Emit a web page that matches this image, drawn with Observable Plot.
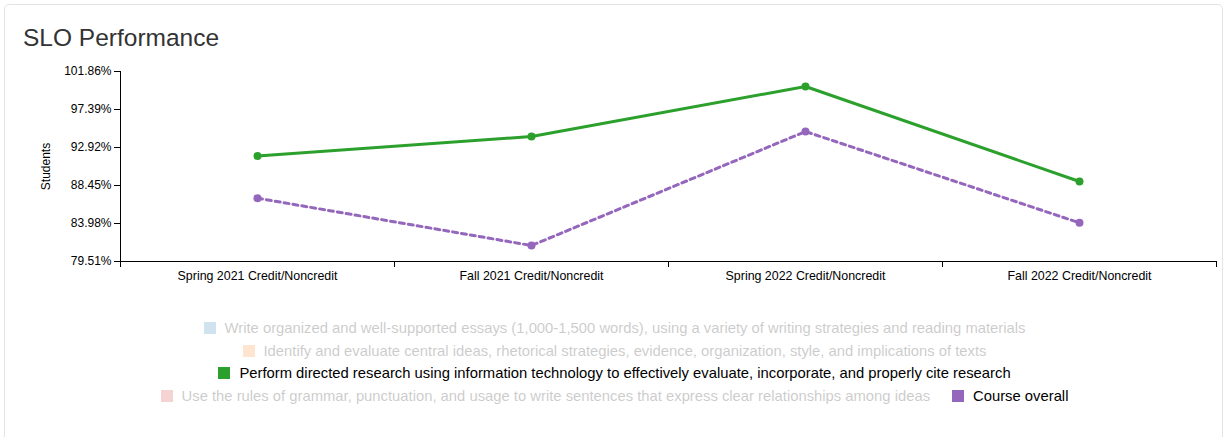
<!DOCTYPE html>
<html>
<head>
<meta charset="utf-8">
<script src="https://cdn.jsdelivr.net/npm/d3@7"></script>
<script src="https://cdn.jsdelivr.net/npm/@observablehq/plot@0.6"></script>
<style>
  html, body { margin: 0; padding: 0; background: #fff; font-family: "Liberation Sans", Arial, Helvetica, sans-serif; }
  #card { position: absolute; left: 4px; top: 4px; width: 1219px; height: 460px; border: 1px solid #e3e3e3; border-radius: 5px; box-sizing: border-box; }
  #title { position: absolute; left: 23px; top: 24px; font-size: 24.5px; color: #333; margin: 0; font-weight: normal; }
  #chart { position: absolute; left: 0; top: 60px; }
  #legend { position: absolute; left: 142px; top: 319px; width: 945px; display: flex; flex-wrap: wrap; justify-content: center; row-gap: 4px; column-gap: 22px; font-size: 14.8px; }
  .item { display: flex; align-items: center; height: 18.5px; color: #000; white-space: nowrap; }
  .item.off { opacity: 0.2; }
  .sw { width: 12px; height: 12px; margin-right: 9px; }
</style>
</head>
<body>
<div id="card"></div>
<h2 id="title">SLO Performance</h2>
<div id="chart"></div>
<div id="legend"></div>
<script>
const terms = ["Spring 2021 Credit/Noncredit", "Fall 2021 Credit/Noncredit", "Spring 2022 Credit/Noncredit", "Fall 2022 Credit/Noncredit"];
const researchValues = [91.92, 94.21, 100.10, 88.92];
const overallValues = [86.96, 81.39, 94.80, 84.06];
const yTicks = [79.51, 83.98, 88.45, 92.92, 97.39, 101.86];
const legendNames = [
  "Write organized and well-supported essays (1,000-1,500 words), using a variety of writing strategies and reading materials",
  "Identify and evaluate central ideas, rhetorical strategies, evidence, organization, style, and implications of texts",
  "Perform directed research using information technology to effectively evaluate, incorporate, and properly cite research",
  "Use the rules of grammar, punctuation, and usage to write sentences that express clear relationships among ideas",
  "Course overall"
];
const legendColors = ["#1f77b4", "#ff7f0e", "#2ca02c", "#d62728", "#9467bd"];
const legendActive = [false, false, true, false, true];

const research = terms.map((t, i) => ({i: i + 0.5, v: researchValues[i]}));
const overall = terms.map((t, i) => ({i: i + 0.5, v: overallValues[i]}));
const bandEdges = d3.range(terms.length + 1);
const bandCenters = terms.map((t, i) => i + 0.5);

const plot = Plot.plot({
  width: 1228,
  height: 230,
  marginLeft: 120,
  marginRight: 12,
  marginTop: 11,
  marginBottom: 29,
  style: {fontFamily: "'Liberation Sans', Arial, Helvetica, sans-serif", fontSize: "12px", color: "#000", background: "transparent"},
  x: {domain: [0, terms.length]},
  y: {domain: [yTicks[0], yTicks[yTicks.length - 1]]},
  marks: [
    Plot.axisX({ticks: bandEdges, tickFormat: () => "", tickSize: 6, label: null}),
    Plot.axisX({ticks: bandCenters, tickFormat: d => terms[Math.floor(d)], tickSize: 0, tickPadding: 10, label: null, fontSize: 12.4}),
    Plot.axisY({ticks: yTicks, tickFormat: d => d.toFixed(2) + "%", tickSize: 6, tickPadding: 3, label: "Students", labelAnchor: "center", labelArrow: "none", labelOffset: 79}),
    Plot.frame({anchor: "left"}),
    Plot.frame({anchor: "bottom"}),
    Plot.line(overall, {x: "i", y: "v", stroke: "#9467bd", strokeWidth: 3, strokeDasharray: "5,4"}),
    Plot.dot(overall, {x: "i", y: "v", fill: "#9467bd", r: 4}),
    Plot.line(research, {x: "i", y: "v", stroke: "#2ca02c", strokeWidth: 3}),
    Plot.dot(research, {x: "i", y: "v", fill: "#2ca02c", r: 4})
  ]
});
document.getElementById("chart").appendChild(plot);

const legend = document.getElementById("legend");
legendNames.forEach((name, k) => {
  const item = document.createElement("div");
  item.className = "item" + (legendActive[k] ? "" : " off");
  const sw = document.createElement("span");
  sw.className = "sw";
  sw.style.background = legendColors[k];
  const tx = document.createElement("span");
  tx.textContent = name;
  item.appendChild(sw);
  item.appendChild(tx);
  legend.appendChild(item);
});
</script>
</body>
</html>
